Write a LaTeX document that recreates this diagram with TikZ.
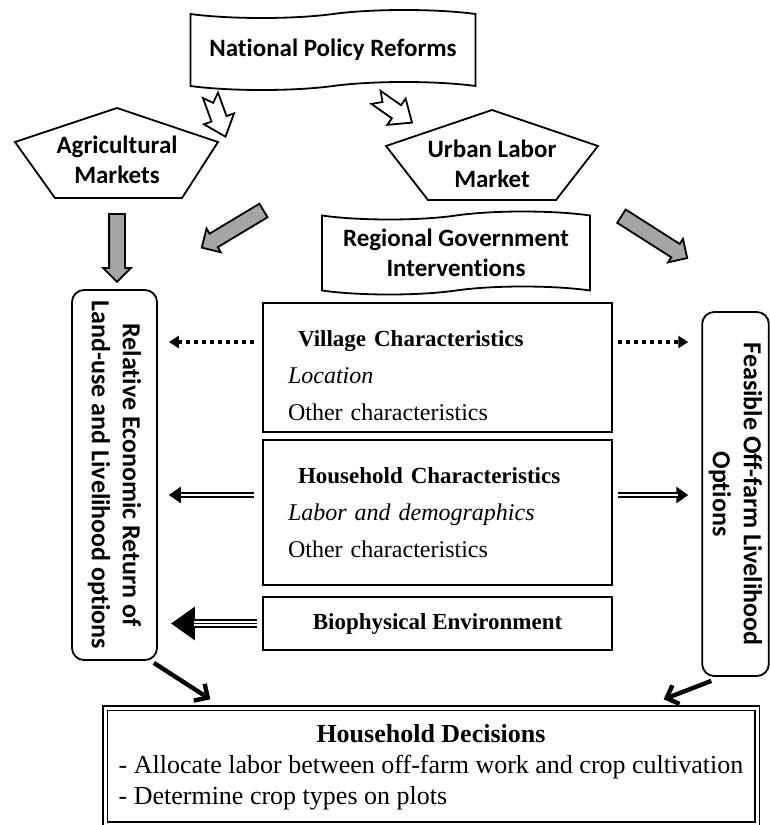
\documentclass[tikz,border=0pt]{standalone}
\usepackage{fontspec}
\setmainfont{Liberation Serif}
\setsansfont[Ligatures=NoCommon]{Carlito}
\usetikzlibrary{arrows.meta,positioning,calc,shapes.geometric,shapes.symbols,shapes.arrows}
\definecolor{BarGray}{RGB}{165,165,165}
\newcommand{\boxtitle}[1]{{\bfseries\fontsize{11.5}{18.5}\selectfont #1}}

\begin{document}
\begin{tikzpicture}[x=0.5pt, y=-0.5pt, line width=0.9pt,
  every node/.style={font=\fontsize{12}{18.5}\selectfont},
  sanslbl/.style={font=\sffamily\bfseries\fontsize{12.5}{15}\selectfont, align=center},
  wavebox/.style={tape, draw, tape bend height=4pt, sanslbl},
  sidebox/.style={draw, rounded corners=6pt, align=center, rotate=-90,
    font=\sffamily\bfseries\fontsize{13}{15.5}\selectfont},
  charbox/.style={draw, minimum width=174.5pt, inner xsep=12.5pt, text width=149.5pt, align=left},
  grayarr/.style={single arrow, draw, fill=BarGray, inner sep=3.5pt,
    single arrow head extend=3pt},
  dotarr/.style={line width=1.6pt, dash pattern=on 2pt off 2pt, -{Triangle[length=5pt,width=6pt]}},
  dblarr/.style={line width=3pt, -{Triangle[length=6pt,width=8pt]},
    postaction={draw=white, line width=1pt, -, shorten >=11.5pt}},
  triarr/.style={line width=4.5pt, -{Triangle[length=12pt,width=16pt]},
    postaction={draw=white, line width=0.9pt, -, shorten >=18pt, transform canvas={yshift=0.9pt}},
    postaction={draw=white, line width=0.9pt, -, shorten >=18pt, transform canvas={yshift=-0.9pt}}},
  blkarr/.style={line width=2.2pt, -{Straight Barb[length=5pt,width=10pt]}}]
\useasboundingbox (0,0) rectangle (770,825);

% policy and markets
\node[wavebox, minimum width=142.5pt, minimum height=40pt] (npr) at (333,50) {National Policy Reforms};
\node[sanslbl] (am) at (117,160) {Agricultural\\Markets};
\draw (am.center) +(0,-52) -- +(101,-18) -- +(65,38) -- +(-62,38) -- +(-102,-18) -- cycle;
\node[sanslbl] (ulm) at (492,164) {Urban Labor\\Market};
\draw (ulm.center) +(0,-54) -- +(106,-18) -- +(64,36) -- +(-64,36) -- +(-106,-18) -- cycle;
\draw[shift={(218,116)}, rotate=-70] (-22,-8) -- (3,-8) -- (3,-16) -- (22,0) -- (3,16) -- (3,8) -- (-22,8) -- (-14,0) -- cycle;
\draw[shift={(394,110)}, rotate=-35] (-22,-8) -- (3,-8) -- (3,-16) -- (22,0) -- (3,16) -- (3,8) -- (-22,8) -- (-14,0) -- cycle;

\node[grayarr, minimum height=34pt, rotate=-90] (g1) at (117,244) {};
\node[grayarr, minimum height=36pt, rotate=211] (g2) at (236,227) {};
\node[grayarr, minimum height=39pt, rotate=-32.5] (g3) at (651,235) {};

\node[wavebox, minimum width=134pt, minimum height=41.5pt] (rgi) at (456,253) {Regional Government\\Interventions};

% side boxes
\node[sidebox, minimum width=185pt, minimum height=42.5pt] (lr) at (114.5,475)
  {Relative Economic Return of\\Land-use and Livelihood options};
\node[sidebox, minimum width=182pt, minimum height=32.5pt] (fo) at (735.5,494)
  {Feasible Off-farm Livelihood\\Options};

% characteristics
\node[charbox, minimum height=64.5pt] (vc) at (437.5,367.5)
  {\rule{0pt}{16pt}\hspace*{5pt}\boxtitle{Village Characteristics}\\ \textit{Location}\\ Other characteristics};
\node[charbox, minimum height=72.5pt] (hc) at (437.5,512.5)
  {\hspace*{5pt}\boxtitle{Household Characteristics}\\ \textit{Labor and demographics}\\ Other characteristics};
\node[draw, minimum width=174.5pt, minimum height=26.5pt] (be) at (437.5,623.5) {\boxtitle{Biophysical Environment}};

\node[draw, double, double distance=1.5pt, line width=0.7pt, minimum width=326pt, minimum height=58pt,
  font=\fontsize{13}{18.5}\selectfont] (hd) at (431,766)
  {\begin{tabular}{@{}l@{}}\multicolumn{1}{c}{\textbf{Household Decisions}}\\[-3pt]
   - Allocate labor between off-farm work and crop cultivation\\[-3pt]
   - Determine crop types on plots\end{tabular}};

% connectors
\coordinate (vl) at ([yshift=12.75pt]vc.west);
\coordinate (vr) at ([yshift=12.75pt]vc.east);
\draw[dotarr, shorten <=4pt, shorten >=5.5pt] (vl) -- (vl -| lr.north);
\draw[dotarr, shorten <=2.5pt, shorten >=6.5pt] (vr) -- (vr -| fo.south);
\coordinate (hl) at ([yshift=8.75pt]hc.west);
\coordinate (hr) at ([yshift=8.75pt]hc.east);
\draw[dblarr, shorten <=4pt, shorten >=5.5pt] (hl) -- (hl -| lr.north);
\draw[dblarr, shorten <=2.5pt, shorten >=6.5pt] (hr) -- (hr -| fo.south);
\draw[triarr, shorten <=2.5pt, shorten >=6.5pt] (be.west) -- (be.west -| lr.north);
\draw[blkarr] ([shift={(-2pt,-1pt)}]lr.north east) -- ([shift={(53pt,4pt)}]hd.north west);
\draw[blkarr] ([shift={(5pt,-2pt)}]fo.south east) -- ([shift={(-47pt,4pt)}]hd.north east);
\end{tikzpicture}
\end{document}
